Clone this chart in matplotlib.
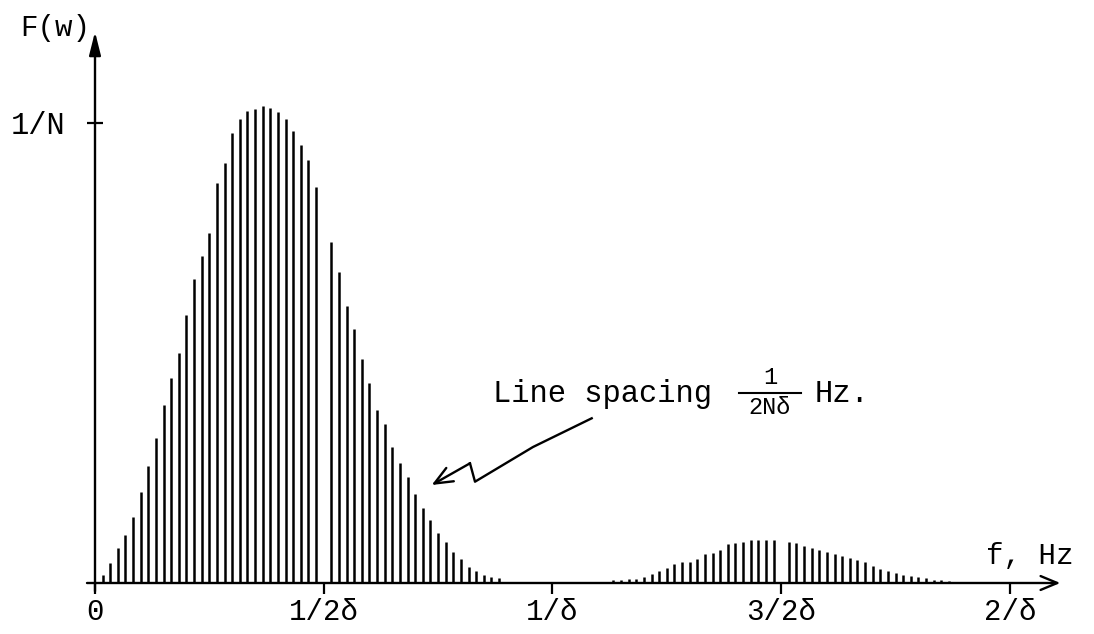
import matplotlib
matplotlib.use("Agg")
import matplotlib.pyplot as plt
from matplotlib.patches import ArrowStyle

plt.rcParams['font.family'] = ['Liberation Mono', 'DejaVu Sans Mono']

# spectral lines, numbered k in steps of 1/(2N delta) Hz (N = 30 lines per 1/(2 delta))
main_k = list(range(1, 54))
main_amp = [0.017, 0.044, 0.076, 0.105, 0.144, 0.198, 0.253, 0.314, 0.386, 0.445,
            0.500, 0.582, 0.660, 0.710, 0.759, 0.868, 0.911, 0.977, 1.007, 1.025,
            1.029, 1.036, 1.032, 1.023, 1.007, 0.982, 0.951, 0.919, 0.861, 0.0,
            0.741, 0.676, 0.602, 0.552, 0.486, 0.435, 0.376, 0.345, 0.296, 0.261,
            0.230, 0.193, 0.162, 0.137, 0.109, 0.088, 0.068, 0.052, 0.035, 0.025,
            0.017, 0.014, 0.010]

side_k = list(range(68, 114))
side_amp = [0.007, 0.007, 0.008, 0.009, 0.012, 0.020, 0.026, 0.033, 0.042, 0.046,
            0.046, 0.053, 0.064, 0.065, 0.072, 0.084, 0.087, 0.088, 0.093, 0.094,
            0.094, 0.094, 0.0, 0.089, 0.087, 0.080, 0.077, 0.072, 0.067, 0.064,
            0.058, 0.054, 0.051, 0.046, 0.038, 0.031, 0.026, 0.022, 0.018, 0.015,
            0.013, 0.011, 0.007, 0.006, 0.004, 0.002]

tick_k = [0, 30, 60, 90, 120]
tick_labels = ['0', '1/2δ', '1/δ', '3/2δ', '2/δ']

# page layout (pixels)
W, H = 1094, 634
ORIGIN_X, ORIGIN_Y = 95, 583
PX_PER_LINE = 7.625
PX_PER_UNIT = 460.5


def fig_xy(x, y):
    # pixel position -> axes fraction
    return x / W, 1 - y / H


fig = plt.figure(figsize=(W / 100, H / 100), dpi=100)
ax = fig.add_axes([0, 0, 1, 1])
ax.set_xlim(-ORIGIN_X / PX_PER_LINE, (W - ORIGIN_X) / PX_PER_LINE)
ax.set_ylim((ORIGIN_Y - H) / PX_PER_UNIT, ORIGIN_Y / PX_PER_UNIT)
ax.set_facecolor('white')

ax.vlines(main_k, 0, main_amp, color='black', lw=1.8)
ax.vlines(side_k, 0, side_amp, color='black', lw=1.8)

# axes drawn as arrows through the origin
for s in ax.spines.values():
    s.set_visible(False)
ax.spines['left'].set_position(('data', 0))
ax.spines['bottom'].set_position(('data', 0))

ax.annotate('', xy=(0, 1.197), xytext=(0, -0.018),
            arrowprops=dict(arrowstyle=ArrowStyle('-|>', head_length=1.4, head_width=0.35),
                            color='black', lw=1.7, shrinkA=0, shrinkB=0, mutation_scale=10))
ax.annotate('', xy=(126.6, 0), xytext=(-1.05, 0),
            arrowprops=dict(arrowstyle=ArrowStyle('->', head_length=1.2, head_width=0.5),
                            color='black', lw=1.7, shrinkA=0, shrinkB=0, mutation_scale=10))

ax.set_xticks(tick_k, tick_labels)
ax.set_yticks([1.0], ['1/N'])
ax.tick_params(axis='x', direction='out', length=8, width=1.6, pad=3, labelsize=21)
ax.tick_params(axis='y', direction='inout', length=11, width=1.6, pad=16, labelsize=22)

ax.text(*fig_xy(55, 28), 'F(w)', transform=ax.transAxes, ha='center', va='center', fontsize=21)
ax.text(*fig_xy(1030, 556), 'f, Hz', transform=ax.transAxes, ha='center', va='center', fontsize=21)

# note about the line spacing
ax.text(*fig_xy(493, 402), 'Line spacing', transform=ax.transAxes,
        ha='left', va='baseline', fontsize=22)
ax.text(*fig_xy(770, 389), '1', transform=ax.transAxes, ha='center', va='bottom', fontsize=17)
ax.plot([fig_xy(739, 393)[0], fig_xy(801, 393)[0]], [fig_xy(739, 393)[1]] * 2,
        transform=ax.transAxes, color='black', lw=1.5)
ax.text(*fig_xy(770, 396), '2Nδ', transform=ax.transAxes, ha='center', va='top', fontsize=17)
ax.text(*fig_xy(815, 402), 'Hz.', transform=ax.transAxes,
        ha='left', va='baseline', fontsize=22)

# hand-drawn zigzag pointer
path = [fig_xy(591.7, 418.3), fig_xy(533, 447), fig_xy(475, 481.7), fig_xy(470, 463.3)]
ax.plot([p[0] for p in path], [p[1] for p in path], transform=ax.transAxes,
        color='black', lw=1.7, solid_joinstyle='round')
ax.annotate('', xy=fig_xy(431.7, 485), xytext=fig_xy(470, 463.3),
            xycoords='axes fraction', textcoords='axes fraction',
            arrowprops=dict(arrowstyle=ArrowStyle('->', head_length=1.3, head_width=0.55),
                            color='black', lw=1.7, shrinkA=0, shrinkB=0, mutation_scale=10))

fig.savefig('out.png', dpi=100, facecolor='white')
